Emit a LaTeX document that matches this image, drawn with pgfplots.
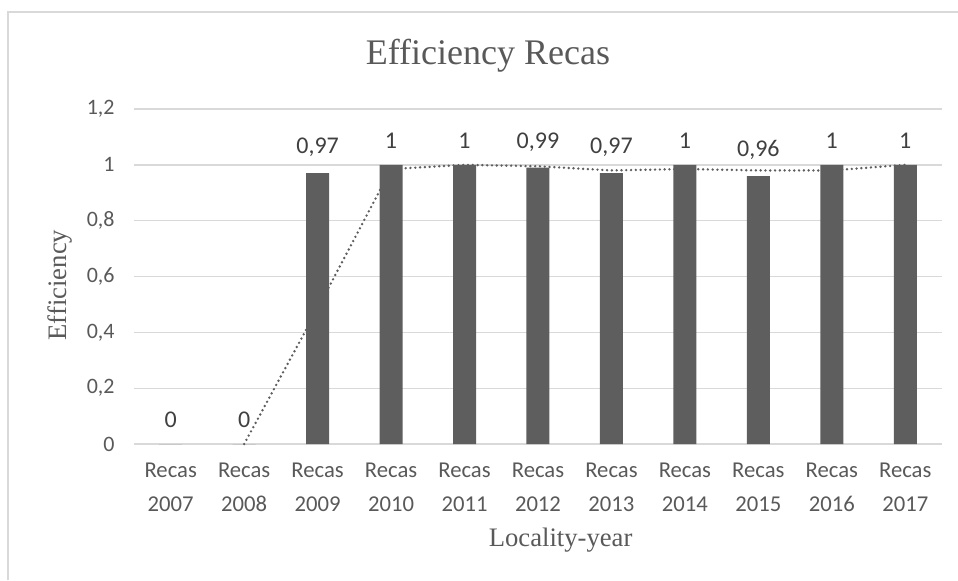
\documentclass[border=0pt]{standalone}
\usepackage{pgfplots}
\pgfplotsset{compat=1.18}
\usepackage{fontspec}
\setmainfont{Liberation Serif}
\newfontfamily\carlito{Carlito}

\definecolor{barc}{HTML}{5E5E5E}
\definecolor{gridc}{HTML}{D9D9D9}
\definecolor{txtc}{HTML}{595959}
\definecolor{lblc}{HTML}{404040}

\pgfplotstableread{
x val
0 0
1 0
2 0.97
3 1
4 1
5 0.99
6 0.97
7 1
8 0.96
9 1
10 1
}\effdata

% two-period moving average trendline
\pgfplotstableread{
x ma
1 0
2 0.485
3 0.985
4 1
5 0.995
6 0.98
7 0.985
8 0.98
9 0.98
10 1
}\madata

\begin{document}
\begin{tikzpicture}
\begin{axis}[
    scale only axis,
    width=606pt, height=251.25pt,
    xmin=-0.5, xmax=10.5,
    ymin=0, ymax=1.2,
    ytick={0,0.2,...,1.2},
    xtick={0,...,10},
    xticklabels={{Recas\\[4.5pt]2007},{Recas\\[4.5pt]2008},{Recas\\[4.5pt]2009},{Recas\\[4.5pt]2010},{Recas\\[4.5pt]2011},{Recas\\[4.5pt]2012},{Recas\\[4.5pt]2013},{Recas\\[4.5pt]2014},{Recas\\[4.5pt]2015},{Recas\\[4.5pt]2016},{Recas\\[4.5pt]2017}},
    /pgf/number format/use comma,
    /pgf/number format/assume math mode=true,
    yticklabel style={font=\carlito\fontsize{16.5}{18}\selectfont, text=txtc, xshift=-11pt},
    xticklabel style={font=\carlito\fontsize{17}{21}\selectfont, text=txtc, align=center, yshift=-11pt},
    major tick length=0pt,
    axis line style={draw=none},
    ymajorgrids,
    grid style={gridc, line width=1pt},
    clip=false,
    title={Efficiency Recas},
    title style={font=\fontsize{27}{30}\selectfont, text=txtc, at={(rel axis cs:0.438,1.110)}, anchor=base},
    xlabel={Locality-year},
    xlabel style={font=\fontsize{20}{22}\selectfont, text=txtc, at={(rel axis cs:0.528,-0.2866)}, anchor=center},
    ylabel={Efficiency},
    ylabel style={font=\fontsize{20}{22}\selectfont, text=txtc, at={(rel axis cs:-0.0916,0.4746)}, anchor=center, rotate=0},
]
\addplot[ybar, bar width=17.25pt, fill=barc, draw=none,
    nodes near coords,
    nodes near coords style={font=\carlito\fontsize{18}{20}\selectfont, text=lblc, anchor=south, inner sep=0pt, yshift=12pt,
        /pgf/number format/fixed, /pgf/number format/precision=2}]
    table[x=x, y=val] {\effdata};
\addplot[barc, line width=2pt, line cap=round, dash pattern=on 0pt off 3.6pt]
    table[x=x, y=ma] {\madata};
\draw[gridc, line width=1.5pt] (rel axis cs:-0.156,-0.406) -- (rel axis cs:-0.156,1.2896) -- (rel axis cs:1.0198,1.2896);
\coordinate (bl) at (rel axis cs:-0.1658,-0.406);
\coordinate (tr) at (rel axis cs:1.0198,1.3254);
\end{axis}
\pgfresetboundingbox
\useasboundingbox (bl) rectangle (tr);
\end{tikzpicture}
\end{document}
